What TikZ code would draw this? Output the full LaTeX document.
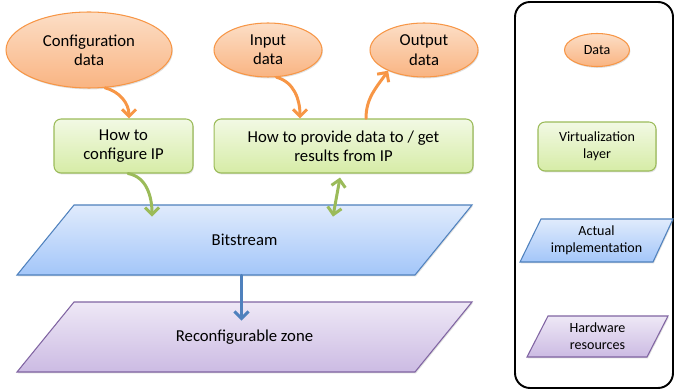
\documentclass[tikz,border=0pt]{standalone}
\usepackage{fontspec}
\setmainfont{Carlito}
\definecolor{dataorange}{RGB}{247,150,70}
\definecolor{datatop}{RGB}{252,222,198}
\definecolor{databot}{RGB}{249,180,130}
\definecolor{virtgreen}{RGB}{155,187,89}
\definecolor{virttop}{RGB}{242,249,228}
\definecolor{virtbot}{RGB}{214,236,166}
\definecolor{implblue}{RGB}{79,129,189}
\definecolor{impltop}{RGB}{224,235,252}
\definecolor{implbot}{RGB}{163,198,249}
\definecolor{hwpurple}{RGB}{128,100,162}
\definecolor{hwtop}{RGB}{238,232,246}
\definecolor{hwbot}{RGB}{204,187,227}
\usetikzlibrary{shapes,arrows.meta,positioning,shadows}

\begin{document}
\begin{tikzpicture}[x=0.02cm, y=-0.02cm,
    every node/.style={font=\fontsize{9.5}{11}\selectfont, align=center, inner sep=1pt},
    softshadow/.style={drop shadow={shadow xshift=0.5pt, shadow yshift=-0.8pt, opacity=0.25}},
    datanode/.style={ellipse, draw=dataorange, line width=0.6pt, top color=datatop, bottom color=databot, softshadow},
    virtnode/.style={rectangle, rounded corners=4pt, draw=virtgreen, line width=0.6pt, top color=virttop, bottom color=virtbot, softshadow},
    implshape/.style={draw=implblue, line width=0.6pt, top color=impltop, bottom color=implbot, softshadow},
    hwshape/.style={draw=hwpurple, line width=0.6pt, top color=hwtop, bottom color=hwbot, softshadow},
    legend/.style={font=\fontsize{8}{9.8}\selectfont},
    arrowbase/.style={line width=1.7pt, line cap=round, -{Straight Barb[length=4pt, width=8pt]}}]
    \useasboundingbox (0,0) rectangle (675,391);

    % Data
    \node[datanode, minimum width=3.32cm, minimum height=1.52cm] (cfg) at (89,50) {Configuration\\data};
    \node[datanode, minimum width=2.16cm, minimum height=1.08cm] (inp) at (268,50) {Input\\data};
    \node[datanode, minimum width=2.16cm, minimum height=1.08cm] (outp) at (424,50) {Output\\data};

    % Virtualization layer
    \node[virtnode, minimum width=2.78cm, minimum height=1.08cm] (box1) at (123.5,146) {How to\\configure IP};
    \node[virtnode, minimum width=5.18cm, minimum height=1.08cm] (box2) at (343.5,146) {How to provide data to / get\\results from IP};

    % Implementation and hardware
    \draw[implshape] (17,275) -- (415,275) -- (472,205) -- (74,205) -- cycle;
    \node[minimum width=7.96cm, minimum height=1.4cm] (bits) at (244.5,240) {Bitstream};
    \draw[hwshape] (17,372) -- (415,372) -- (472,302) -- (74,302) -- cycle;
    \node[minimum width=7.96cm, minimum height=1.4cm] (recon) at (244.5,337) {Reconfigurable zone};

    % Arrows
    \draw[arrowbase, dataorange] (cfg.-67) to[out=-15, in=90] ([xshift=0.11cm]box1.north);
    \draw[arrowbase, dataorange] (inp.-73) to[out=-15, in=90] ([xshift=-0.87cm]box2.north);
    \draw[arrowbase, dataorange] ([xshift=0.45cm]box2.north) to[out=90, in=-125] (outp.-150);
    \draw[arrowbase, virtgreen] ([xshift=0.09cm]box1.south) to[out=-10, in=90] ([xshift=-1.85cm, yshift=-0.24cm]bits.north);
    \draw[arrowbase, virtgreen, {Straight Barb[length=4pt, width=8pt]}-{Straight Barb[length=4pt, width=8pt]}] ([xshift=-0.07cm, yshift=-0.08cm]box2.south) to[out=-100, in=80] ([xshift=1.77cm, yshift=-0.24cm]bits.north);
    \draw[arrowbase, implblue] ([xshift=-0.06cm]bits.south) -- ([xshift=-0.06cm, yshift=-0.38cm]recon.north);

    % Legend
    \draw[line width=1.1pt, rounded corners=0.3cm] (515,2) rectangle (673,388);
    \node[datanode, legend, minimum width=1.3cm, minimum height=0.66cm] (ldata) at (597,50) {Data};
    \node[virtnode, legend, minimum width=2.36cm, minimum height=0.98cm] (lvirt) at (597,146.5) {Virtualization\\layer};
    \draw[implshape] (520,262) -- (653,262) -- (673,219) -- (541,219) -- cycle;
    \node[legend] (limpl) at (596.5,240.5) {Actual\\implementation};
    \draw[hwshape] (527,357) -- (647,357) -- (668,316) -- (548,316) -- cycle;
    \node[legend] (lhw) at (597.5,336.5) {Hardware\\resources};
\end{tikzpicture}
\end{document}
